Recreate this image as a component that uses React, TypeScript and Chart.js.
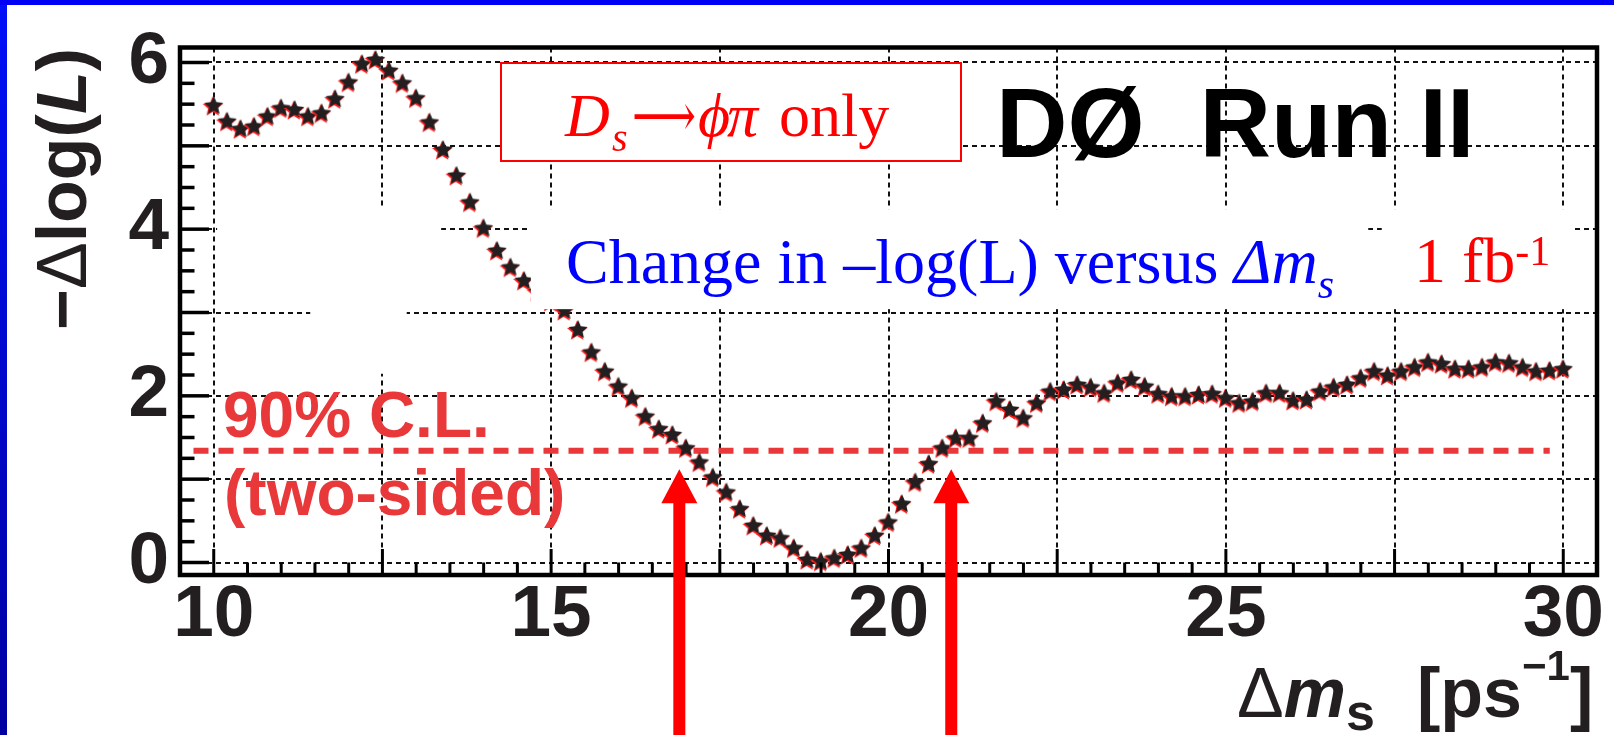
import { useEffect, useRef } from "react";
import { Chart, registerables } from "chart.js";

Chart.register(...registerables);

// Δm_s scan points [ps^-1]
const DELTA_MS = [
  10.0, 10.2, 10.4, 10.6, 10.8, 11.0, 11.2, 11.4, 11.6, 11.8,
  12.0, 12.2, 12.4, 12.6, 12.8, 13.0, 13.2, 13.4, 13.6, 13.8,
  14.0, 14.2, 14.4, 14.6, 14.8, 15.0, 15.2, 15.4, 15.6, 15.8,
  16.0, 16.2, 16.4, 16.6, 16.8, 17.0, 17.2, 17.4, 17.6, 17.8,
  18.0, 18.2, 18.4, 18.6, 18.8, 19.0, 19.2, 19.4, 19.6, 19.8,
  20.0, 20.2, 20.4, 20.6, 20.8, 21.0, 21.2, 21.4, 21.6, 21.8,
  22.0, 22.2, 22.4, 22.6, 22.8, 23.0, 23.2, 23.4, 23.6, 23.8,
  24.0, 24.2, 24.4, 24.6, 24.8, 25.0, 25.2, 25.4, 25.6, 25.8,
  26.0, 26.2, 26.4, 26.6, 26.8, 27.0, 27.2, 27.4, 27.6, 27.8,
  28.0, 28.2, 28.4, 28.6, 28.8, 29.0, 29.2, 29.4, 29.6, 29.8,
  30.0,
];

// −Δlog(L) at each scan point
const NEG_DLOGL = [
  5.48, 5.29, 5.2, 5.23, 5.35, 5.45, 5.43, 5.35, 5.39, 5.56,
  5.76, 5.98, 6.03, 5.9, 5.75, 5.57, 5.28, 4.95, 4.64, 4.32,
  4.01, 3.74, 3.54, 3.38, 3.25, 3.13, 3.02, 2.79, 2.52, 2.29,
  2.11, 1.97, 1.75, 1.6, 1.53, 1.37, 1.2, 1.02, 0.84, 0.64,
  0.44, 0.32, 0.29, 0.17, 0.03, 0.01, 0.05, 0.09, 0.17, 0.32,
  0.48, 0.7, 0.96, 1.18, 1.37, 1.49, 1.49, 1.67, 1.93, 1.83,
  1.73, 1.91, 2.05, 2.07, 2.13, 2.1, 2.03, 2.15, 2.19, 2.11,
  2.02, 1.99, 1.99, 2.01, 2.02, 1.97, 1.91, 1.93, 2.03, 2.03,
  1.94, 1.95, 2.05, 2.1, 2.13, 2.21, 2.29, 2.24, 2.29, 2.34,
  2.4, 2.38, 2.32, 2.32, 2.34, 2.4, 2.39, 2.34, 2.29, 2.3,
  2.32,
];

// Axis grid and labels
const X_GRID = [10, 12.5, 15, 17.5, 20, 22.5, 25, 27.5, 30];
const X_TICK_LABELS = [10, 15, 20, 25, 30];
const Y_GRID = [0, 1, 2, 3, 4, 5, 6];
const Y_TICK_LABELS = [0, 2, 4, 6];
const X_RANGE = [9.5, 30.5];
const Y_RANGE = [-0.15, 6.18];

// 90% C.L. (two-sided) level and the Δm_s limits it gives
const CL_LEVEL = 1.34;
const CL_SPAN = [9.7, 29.8];
const CL_LIMITS = [16.9, 20.93];
const ARROW_TIP = 1.12;

// White cover patches of the slide, in axis units: [x0, x1, y0, y1]
const COVER_PATCHES = [
  [10.05, 13.37, 3.12, 4.24],
  [11.43, 12.86, 2.265, 4.24],
  [14.7, 27.11, 3.04, 4.24],
  [27.31, 30.17, 3.04, 4.24],
];

const SANS = '"Liberation Sans", Arial, Helvetica, sans-serif';
const SERIF = '"Liberation Serif", "Times New Roman", serif';
const INK = "#231f20";
const CL_RED = "#e8383a";
const GRID = "#111111";

type Run = { text: string; font: string; dy?: number; at?: number; width?: number; color?: string };

// Draws a sequence of text pieces along one baseline; a piece may be
// pinned to an x position and/or stretched to a given width.
function drawRuns(ctx: CanvasRenderingContext2D, x: number, y: number, runs: Run[], color: string) {
  let pen = x;
  for (const r of runs) {
    if (r.at !== undefined) pen = r.at;
    ctx.font = r.font;
    ctx.fillStyle = r.color ?? color;
    const w = ctx.measureText(r.text).width;
    if (r.width !== undefined && w > 0) {
      ctx.save();
      ctx.translate(pen, y + (r.dy ?? 0));
      ctx.scale(r.width / w, 1);
      ctx.fillText(r.text, 0, 0);
      ctx.restore();
      pen += r.width;
    } else {
      ctx.fillText(r.text, pen, y + (r.dy ?? 0));
      pen += w;
    }
  }
}

function starPath(ctx: CanvasRenderingContext2D, cx: number, cy: number, R: number, r: number) {
  ctx.beginPath();
  for (let i = 0; i < 10; i++) {
    const rad = i % 2 === 0 ? R : r;
    const a = -Math.PI / 2 + (i * Math.PI) / 5;
    const px = cx + rad * Math.cos(a);
    const py = cy + rad * Math.sin(a);
    if (i === 0) ctx.moveTo(px, py);
    else ctx.lineTo(px, py);
  }
  ctx.closePath();
}

function makeStar(): HTMLCanvasElement {
  const c = document.createElement("canvas");
  c.width = 26;
  c.height = 26;
  const g = c.getContext("2d")!;
  g.fillStyle = "#ff1a1a";
  starPath(g, 12, 14.2, 10.6, 4.9);
  g.fill();
  g.fillStyle = INK;
  starPath(g, 13, 13, 10, 4.6);
  g.fill();
  return c;
}

const decor = {
  id: "decor",
  beforeDraw(chart: any) {
    const { ctx, width, height } = chart;
    ctx.save();
    ctx.fillStyle = "#ffffff";
    ctx.fillRect(0, 0, width, height);
    const g = ctx.createLinearGradient(0, 0, 0, height);
    g.addColorStop(0, "#0010f8");
    g.addColorStop(1, "#0000a0");
    ctx.fillStyle = g;
    ctx.fillRect(0, 0, 7, height);
    ctx.fillStyle = "#0000f5";
    ctx.fillRect(0, 0, width, 5);
    ctx.restore();
  },
  afterDatasetsDraw(chart: any) {
    const { ctx, chartArea: a } = chart;
    const xs = chart.scales.x;
    const ys = chart.scales.y;
    ctx.save();

    // cover patches
    ctx.fillStyle = "#ffffff";
    for (const [x0, x1, y0, y1] of COVER_PATCHES) {
      const px0 = xs.getPixelForValue(x0);
      const px1 = xs.getPixelForValue(x1);
      const py0 = ys.getPixelForValue(y1);
      const py1 = ys.getPixelForValue(y0);
      ctx.fillRect(px0, py0, px1 - px0, py1 - py0);
    }

    // inward tick marks
    ctx.strokeStyle = "#000";
    ctx.lineWidth = 3.5;
    for (let v = 0; v <= 6.001; v += 0.25) {
      const py = ys.getPixelForValue(v);
      const major = Math.abs(v - Math.round(v)) < 1e-6;
      ctx.beginPath();
      ctx.moveTo(a.left, py);
      ctx.lineTo(a.left + (major ? 29 : 14.5), py);
      ctx.stroke();
    }
    ctx.lineWidth = 3;
    for (let v = 10; v <= 30.001; v += 0.5) {
      const px = xs.getPixelForValue(v);
      const major = Math.abs(v / 2.5 - Math.round(v / 2.5)) < 1e-6;
      ctx.beginPath();
      ctx.moveTo(px, a.bottom);
      ctx.lineTo(px, a.bottom - (major ? 26 : 12.5));
      ctx.stroke();
    }

    // frame
    ctx.lineWidth = 4.5;
    ctx.strokeRect(a.left, a.top, a.right - a.left, a.bottom - a.top);

    ctx.textAlign = "left";
    ctx.textBaseline = "alphabetic";

    // channel box
    ctx.fillStyle = "#ffffff";
    ctx.fillRect(501, 63, 460, 98);
    ctx.strokeStyle = "#ff0000";
    ctx.lineWidth = 2;
    ctx.strokeRect(501, 63, 460, 98);
    drawRuns(ctx, 565, 136, [
      { text: "D", font: `italic 62px ${SERIF}` },
      { text: "s", font: `italic 40px ${SERIF}`, dy: 15, at: 612 },
      { text: "\u27f6", font: `60px "DejaVu Serif", ${SERIF}`, at: 632, width: 64 },
      { text: "\u03d5", font: `italic 62px ${SERIF}`, at: 698 },
      { text: "\u03c0", font: `italic 62px ${SERIF}`, at: 727 },
      { text: "only", font: `62px ${SERIF}`, at: 779 },
    ], "#ff0000");

    // experiment label
    ctx.font = `bold 99px ${SANS}`;
    ctx.fillStyle = "#000";
    ctx.fillText("D\u00d8  Run II", 996, 157);

    // plot description
    drawRuns(ctx, 566, 283, [
      { text: "Change in \u2013log(L) versus ", font: `64px ${SERIF}` },
      { text: "\u0394m", font: `italic 64px ${SERIF}`, at: 1234 },
      { text: "s", font: `italic 42px ${SERIF}`, dy: 15 },
    ], "#0000ff");
    drawRuns(ctx, 1414, 282, [
      { text: "1 fb", font: `64px ${SERIF}` },
      { text: "-1", font: `42px ${SERIF}`, dy: -17 },
    ], "#ff0000");

    // confidence-level label
    ctx.fillStyle = CL_RED;
    ctx.font = `bold 64px ${SANS}`;
    ctx.fillText("90% C.L.", 223, 437);
    ctx.fillText("(two-sided)", 224, 515);

    ctx.restore();
  },
  afterDraw(chart: any) {
    const { ctx, height } = chart;
    const xs = chart.scales.x;
    const ys = chart.scales.y;
    ctx.save();

    // limit arrows
    ctx.fillStyle = "#ff0000";
    const tip = ys.getPixelForValue(ARROW_TIP);
    for (const lim of CL_LIMITS) {
      const px = xs.getPixelForValue(lim);
      ctx.beginPath();
      ctx.moveTo(px, tip);
      ctx.lineTo(px + 18, tip + 34);
      ctx.lineTo(px + 6, tip + 34);
      ctx.lineTo(px + 6, height);
      ctx.lineTo(px - 6, height);
      ctx.lineTo(px - 6, tip + 34);
      ctx.lineTo(px - 18, tip + 34);
      ctx.closePath();
      ctx.fill();
    }

    ctx.textAlign = "left";
    ctx.textBaseline = "alphabetic";

    // y title
    ctx.save();
    ctx.translate(86, 330);
    ctx.rotate(-Math.PI / 2);
    drawRuns(ctx, 0, 0, [
      { text: "\u2212", font: `bold 70px ${SANS}` },
      { text: "\u0394", font: `70px ${SANS}` },
      { text: "log(", font: `bold 70px ${SANS}` },
      { text: "L", font: `italic bold 70px ${SANS}` },
      { text: ")", font: `bold 70px ${SANS}` },
    ], INK);
    ctx.restore();

    // x title
    drawRuns(ctx, 1237, 717, [
      { text: "\u0394", font: `70px ${SANS}` },
      { text: "m", font: `italic bold 70px ${SANS}` },
      { text: "s", font: `bold 52px ${SANS}`, dy: 13 },
      { text: "[ps", font: `bold 70px ${SANS}`, at: 1417 },
      { text: "\u22121", font: `bold 42px ${SANS}`, dy: -37 },
      { text: "]", font: `bold 70px ${SANS}` },
    ], INK);

    ctx.restore();
  },
};

export default function App() {
  const ref = useRef<HTMLCanvasElement | null>(null);

  useEffect(() => {
    const canvas = ref.current;
    if (!canvas) return;
    const star = makeStar();
    const tickFont = { family: SANS, size: 73, weight: "bold" as const, lineHeight: 1 };
    const chart = new Chart(canvas, {
      type: "scatter",
      data: {
        datasets: [
          {
            type: "scatter",
            data: DELTA_MS.map((x, i) => ({ x, y: NEG_DLOGL[i] })),
            pointStyle: star as any,
            pointRadius: 10,
            order: 1,
          },
          {
            type: "line",
            data: CL_SPAN.map((x) => ({ x, y: CL_LEVEL })),
            borderColor: CL_RED,
            borderWidth: 6,
            borderDash: [15, 10],
            pointRadius: 0,
            fill: false,
            order: 2,
          } as any,
        ],
      },
      options: {
        responsive: false,
        animation: false,
        devicePixelRatio: 1,
        events: [],
        layout: { padding: { top: 43, right: 17, left: 0, bottom: 0 } },
        plugins: { legend: { display: false }, tooltip: { enabled: false } },
        scales: {
          x: {
            type: "linear",
            min: X_RANGE[0],
            max: X_RANGE[1],
            afterBuildTicks: (s: any) => {
              s.ticks = X_GRID.map((v) => ({ value: v }));
            },
            afterFit: (s: any) => {
              s.height = 160;
            },
            grid: { color: GRID, lineWidth: 2, drawTicks: false },
            border: { display: false, dash: [5, 4] },
            ticks: {
              autoSkip: false,
              maxRotation: 0,
              minRotation: 0,
              padding: 4,
              color: INK,
              font: tickFont,
              callback: (v: any) => (X_TICK_LABELS.includes(Number(v)) ? String(v) : ""),
            },
          },
          y: {
            type: "linear",
            min: Y_RANGE[0],
            max: Y_RANGE[1],
            afterBuildTicks: (s: any) => {
              s.ticks = Y_GRID.map((v) => ({ value: v }));
            },
            afterFit: (s: any) => {
              s.width = 180;
            },
            grid: { color: GRID, lineWidth: 2, drawTicks: false },
            border: { display: false, dash: [5, 4] },
            ticks: {
              autoSkip: false,
              padding: 11,
              color: INK,
              font: tickFont,
              callback: (v: any) => (Y_TICK_LABELS.includes(Number(v)) ? String(v) : ""),
            },
          },
        },
      },
      plugins: [decor],
    });
    return () => chart.destroy();
  }, []);

  return (
    <div style={{ position: "fixed", left: 0, top: 0, width: 1614, height: 735, overflow: "hidden", background: "#fff" }}>
      <canvas ref={ref} width={1614} height={735} style={{ display: "block" }} />
    </div>
  );
}
